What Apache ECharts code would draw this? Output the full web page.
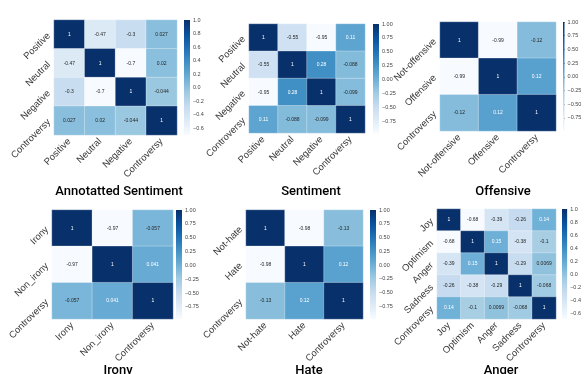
<!DOCTYPE html>
<html>
<head>
<meta charset="utf-8">
<script src="https://cdn.jsdelivr.net/npm/echarts@6/dist/echarts.min.js"></script>
<style>
  html, body { margin: 0; padding: 0; background: #fff; }
  #chart { width: 584px; height: 374px; }
</style>
</head>
<body>
<div id="chart"></div>
<script>
// correlation matrices, one per panel
var annSentLabels = ['Positive', 'Neutral', 'Negative', 'Controversy'];
var annSentValues = [
    [1, -0.47, -0.3, 0.027],
    [-0.47, 1, -0.7, 0.02],
    [-0.3, -0.7, 1, -0.044],
    [0.027, 0.02, -0.044, 1]
];
var sentLabels = ['Positive', 'Neutral', 'Negative', 'Controversy'];
var sentValues = [
    [1, -0.55, -0.95, 0.11],
    [-0.55, 1, 0.28, -0.088],
    [-0.95, 0.28, 1, -0.099],
    [0.11, -0.088, -0.099, 1]
];
var offLabels = ['Not-offensive', 'Offensive', 'Controversy'];
var offValues = [
    [1, -0.99, -0.12],
    [-0.99, 1, 0.12],
    [-0.12, 0.12, 1]
];
var ironyLabels = ['Irony', 'Non_irony', 'Controversy'];
var ironyValues = [
    [1, -0.97, -0.057],
    [-0.97, 1, 0.041],
    [-0.057, 0.041, 1]
];
var hateLabels = ['Not-hate', 'Hate', 'Controversy'];
var hateValues = [
    [1, -0.98, -0.13],
    [-0.98, 1, 0.12],
    [-0.13, 0.12, 1]
];
var angerLabels = ['Joy', 'Optimism', 'Anger', 'Sadness', 'Controversy'];
var angerValues = [
    [1, -0.68, -0.39, -0.26, 0.14],
    [-0.68, 1, 0.15, -0.38, -0.1],
    [-0.39, 0.15, 1, -0.29, 0.0069],
    [-0.26, -0.38, -0.29, 1, -0.068],
    [0.14, -0.1, 0.0069, -0.068, 1]
];
var titles = ['Annotatted Sentiment', 'Sentiment', 'Offensive', 'Irony', 'Hate', 'Anger'];
var ticksTenths = [-0.6, -0.4, -0.2, 0, 0.2, 0.4, 0.6, 0.8, 1.0];
var ticksQuarters = [-0.75, -0.5, -0.25, 0, 0.25, 0.5, 0.75, 1.0];

// matplotlib "Blues"
var blues = ['#f7fbff', '#deebf7', '#c6dbef', '#9ecae1', '#6baed6', '#4292c6', '#2171b5', '#08519c', '#08306b'];

var panels = [
    {labels: annSentLabels, values: annSentValues, ticks: ticksTenths, dec: 1,
     grid: {left: 54, top: 20, width: 123, height: 115}, cbLeft: 184, title: [114, 180]},
    {labels: sentLabels, values: sentValues, ticks: ticksQuarters, dec: 2,
     grid: {left: 249, top: 24, width: 116, height: 109}, cbLeft: 373, title: [306, 180]},
    {labels: offLabels, values: offValues, ticks: ticksQuarters, dec: 2,
     grid: {left: 440, top: 22, width: 116, height: 109}, cbLeft: 563, title: [498, 180]},
    {labels: ironyLabels, values: ironyValues, ticks: ticksQuarters, dec: 2,
     grid: {left: 52, top: 210, width: 121, height: 109}, cbLeft: 176, title: [113, 359]},
    {labels: hateLabels, values: hateValues, ticks: ticksQuarters, dec: 2,
     grid: {left: 246, top: 210, width: 117, height: 109}, cbLeft: 370, title: [304, 359]},
    {labels: angerLabels, values: angerValues, ticks: ticksTenths, dec: 1,
     grid: {left: 437, top: 209, width: 119, height: 110}, cbLeft: 562, title: [496, 359]}
];

function fmtTick(v, dec) {
    var s = Math.abs(v).toFixed(dec);
    return (v < -1e-9 ? '\u2212' : '') + s;
}

var grids = [], xAxes = [], yAxes = [], series = [], visualMaps = [], titleOpts = [];

panels.forEach(function (p, i) {
    var flat = [].concat.apply([], p.values);
    var vmin = Math.min.apply(null, flat);
    var vmax = Math.max.apply(null, flat);

    // heatmap grid
    grids.push(Object.assign({}, p.grid));
    var gi = grids.length - 1;
    var lbl = {rotate: 45, fontSize: 9.5, color: '#3a3a3a', margin: 5, fontFamily: 'Liberation Sans', interval: 0};
    xAxes.push({
        type: 'category', gridIndex: gi, data: p.labels,
        axisLine: {show: false}, axisTick: {show: false}, splitArea: {show: false},
        axisLabel: lbl
    });
    yAxes.push({
        type: 'category', gridIndex: gi, data: p.labels, inverse: true,
        axisLine: {show: false}, axisTick: {show: false},
        axisLabel: lbl
    });
    var data = [];
    p.values.forEach(function (row, r) {
        row.forEach(function (v, c) {
            var norm = (v - vmin) / (vmax - vmin);
            data.push({
                value: [c, r, v],
                label: {color: norm > 0.47 ? '#ffffff' : '#262626'}
            });
        });
    });
    series.push({
        type: 'heatmap', xAxisIndex: xAxes.length - 1, yAxisIndex: yAxes.length - 1,
        data: data,
        itemStyle: {borderColor: 'rgba(255,255,255,0.5)', borderWidth: 0.6},
        label: {show: true, fontSize: 5, fontFamily: 'Liberation Sans',
            formatter: function (d) { return String(d.value[2]); }},
        emphasis: {disabled: true}
    });
    visualMaps.push({
        type: 'continuous', show: false, seriesIndex: series.length - 1, dimension: 2,
        min: vmin, max: vmax, inRange: {color: blues}
    });

    // colour bar
    grids.push({left: p.cbLeft, top: p.grid.top, width: 6, height: p.grid.height});
    var ci = grids.length - 1;
    xAxes.push({type: 'value', gridIndex: ci, min: 0, max: 1, show: false});
    yAxes.push({
        type: 'value', gridIndex: ci, min: vmin, max: vmax, position: 'right',
        splitLine: {show: false}, axisLine: {show: false},
        axisTick: {show: true, length: 2, lineStyle: {color: '#555', width: 0.6}, customValues: p.ticks},
        axisLabel: {fontSize: 5.5, color: '#444', margin: 3, fontFamily: 'Liberation Sans',
            customValues: p.ticks, formatter: function (v) { return fmtTick(v, p.dec); }}
    });
    series.push({
        type: 'custom', xAxisIndex: xAxes.length - 1, yAxisIndex: yAxes.length - 1,
        data: [[0, vmin, vmax]],
        encode: {x: 0, y: [1, 2]},
        silent: true,
        renderItem: function (params, api) {
            var tl = api.coord([0, api.value(2)]);
            var br = api.coord([1, api.value(1)]);
            var stops = blues.slice().reverse().map(function (c, k) {
                return {offset: k / (blues.length - 1), color: c};
            });
            return {
                type: 'rect',
                shape: {x: tl[0], y: tl[1], width: br[0] - tl[0], height: br[1] - tl[1]},
                style: {fill: new echarts.graphic.LinearGradient(0, 0, 0, 1, stops)}
            };
        }
    });

    titleOpts.push({
        text: titles[i], left: p.title[0], top: p.title[1], textAlign: 'center',
        textStyle: {fontSize: 13, fontWeight: 500, color: '#000', fontFamily: 'Roboto'}
    });
});

var myChart = echarts.init(document.getElementById('chart'));
myChart.setOption({
    animation: false,
    title: titleOpts,
    grid: grids,
    xAxis: xAxes,
    yAxis: yAxes,
    visualMap: visualMaps,
    series: series
});
</script>
</body>
</html>
